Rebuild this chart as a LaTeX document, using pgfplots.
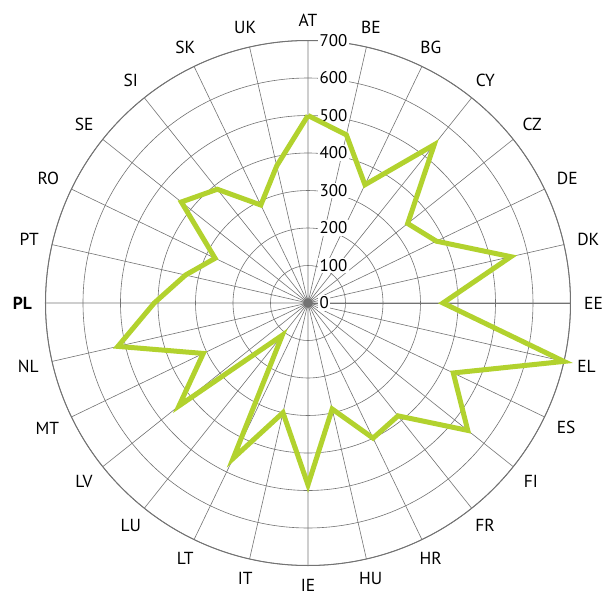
\documentclass[border=0pt]{standalone}
\usepackage{pgfplots}
\pgfplotsset{compat=1.18}
\usepgfplotslibrary{polar}
\usepackage{fontspec}
\setmainfont{PT Sans}
\definecolor{lime}{RGB}{178,210,46}
\definecolor{gridgray}{RGB}{115,115,115}
\begin{document}
\begin{tikzpicture}
\useasboundingbox (-308bp,-293bp) rectangle (299bp,303bp);
\begin{polaraxis}[
  at={(0,0)}, anchor=center,
  scale only axis, width=525bp, height=525bp,
  xmin=0, xmax=360, ymin=0, ymax=700,
  xtick={90,77.143,64.286,51.429,38.571,25.714,12.857,0,347.143,334.286,321.429,308.571,295.714,282.857,270,257.143,244.286,231.429,218.571,205.714,192.857,180,167.143,154.286,141.429,128.571,115.714,102.857},
  xticklabels={AT,BE,BG,CY,CZ,DE,DK,EE,EL,ES,FI,FR,HR,HU,IE,IT,LT,LU,LV,MT,NL,\textbf{PL},PT,RO,SE,SI,SK,UK},
  xticklabel style={font=\fontsize{17.5}{20}\selectfont, inner sep=0pt, anchor=\tick+180, shift={(\tick:13.5bp)}},
  ytick={0,100,200,300,400,500,600,700},
  yticklabels={},
  grid=major,
  major grid style={draw=gridgray, line width=0.6bp},
  axis line style={draw=gridgray, line width=1bp},
  tick style={draw=none},
  clip=false,
]
\node[anchor=west, xshift=10bp, fill=white, inner sep=1.5bp, font=\fontsize{17}{20}\selectfont] at (axis cs:90,0) {0};
\node[anchor=west, xshift=10bp, fill=white, inner sep=1.5bp, font=\fontsize{17}{20}\selectfont] at (axis cs:90,100) {100};
\node[anchor=west, xshift=10bp, fill=white, inner sep=1.5bp, font=\fontsize{17}{20}\selectfont] at (axis cs:90,200) {200};
\node[anchor=west, xshift=10bp, fill=white, inner sep=1.5bp, font=\fontsize{17}{20}\selectfont] at (axis cs:90,300) {300};
\node[anchor=west, xshift=10bp, fill=white, inner sep=1.5bp, font=\fontsize{17}{20}\selectfont] at (axis cs:90,400) {400};
\node[anchor=west, xshift=10bp, fill=white, inner sep=1.5bp, font=\fontsize{17}{20}\selectfont] at (axis cs:90,500) {500};
\node[anchor=west, xshift=10bp, fill=white, inner sep=1.5bp, font=\fontsize{17}{20}\selectfont] at (axis cs:90,600) {600};
\node[anchor=west, xshift=10bp, fill=white, inner sep=1.5bp, font=\fontsize{17}{20}\selectfont] at (axis cs:90,700) {700};
\addplot[draw=lime, line width=5bp, line join=miter, mark=none] coordinates {
(90,500) (77.143,460) (64.286,350) (51.429,540) (38.571,340) (25.714,380) (12.857,555) (0,360) (347.143,700) (334.286,430) (321.429,545) (308.571,385) (295.714,400) (282.857,290) (270,485) (257.143,300) (244.286,460) (231.429,110) (218.571,440) (205.714,310) (192.857,520) (180,410) (167.143,335) (154.286,275) (141.429,432) (128.571,388) (115.714,290) (102.857,375) (90,500)
};
\end{polaraxis}
\end{tikzpicture}
\end{document}
